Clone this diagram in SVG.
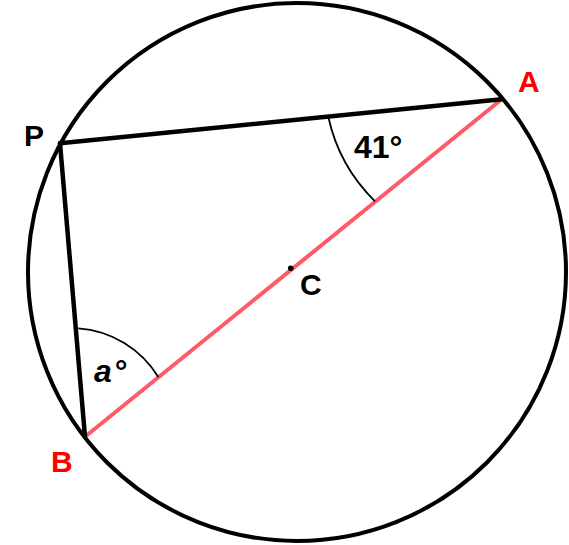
<svg xmlns="http://www.w3.org/2000/svg" width="569" height="545" viewBox="0 0 569 545">
<style>
.lbl{font-family:"Liberation Sans",Arial,sans-serif;font-weight:bold;font-size:30px}
.ang{font-size:32px}
.red{fill:#ff0000}
.blk{fill:#000}
.thick{stroke:#000;stroke-width:4.5;fill:none;stroke-linecap:round}
.arc{stroke:#000;stroke-width:1.8;fill:none}
</style>
<rect width="569" height="545" fill="#fff"/>
<g id="circle">
<circle cx="297" cy="272" r="269" fill="none" stroke="#000" stroke-width="4"/>
</g>
<g id="connectors">
<line id="AB" x1="501.7" y1="99.3" x2="85" y2="436.7" stroke="#ff5a68" stroke-width="4"/>
<line id="PA" class="thick" x1="60" y1="143.3" x2="501.7" y2="99.3"/>
<line id="PB" class="thick" x1="60" y1="143.3" x2="85" y2="436.7"/>
<path id="arcA" class="arc" d="M328.3 116.8 A168 168 0 0 0 375 201.3"/>
<path id="arcB" class="arc" d="M78.3 328.3 A102 102 0 0 1 158.3 377"/>
</g>
<g id="nodeC">
<circle cx="290.7" cy="268.3" r="2.8" fill="#000"/>
<text class="lbl blk" x="300" y="295">C</text>
</g>
<g id="nodeP"><text class="lbl blk" x="24" y="146">P</text></g>
<g id="nodeA"><text class="lbl red" x="518" y="92">A</text></g>
<g id="nodeB"><text class="lbl red" x="51" y="472">B</text></g>
<g id="angle41"><text class="lbl ang blk" x="354" y="158">41°</text></g>
<g id="angleA"><text class="lbl ang blk" x="94" y="382"><tspan font-style="italic">a</tspan><tspan dx="3">°</tspan></text></g>
</svg>
